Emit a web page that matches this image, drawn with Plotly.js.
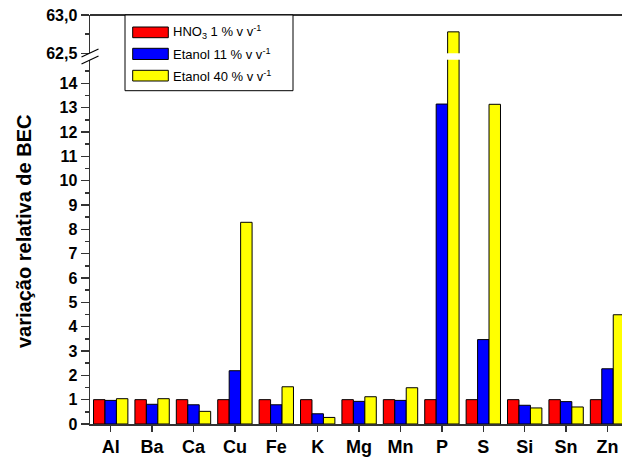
<!DOCTYPE html>
<html>
<head>
<meta charset="utf-8">
<script src="https://cdn.plot.ly/plotly-3.0.1.min.js"></script>
<style>
  html, body { margin: 0; padding: 0; background: #fff; }
  #chart { width: 622px; height: 462px; }
</style>
</head>
<body>
<div id="chart"></div>
<script>
// Elements analysed
const elements = ['Al', 'Ba', 'Ca', 'Cu', 'Fe', 'K', 'Mg', 'Mn', 'P', 'S', 'Si', 'Sn', 'Zn'];

// Relative BEC variation per medium
const hno3      = [1.00, 1.00, 1.00, 1.00, 1.00, 1.00, 1.00, 1.00, 1.00, 1.00, 1.00, 1.00, 1.00];
const etanol11  = [0.97, 0.81, 0.79, 2.19, 0.79, 0.42, 0.93, 0.97, 13.15, 3.47, 0.77, 0.92, 2.27];
const etanol40  = [1.04, 1.04, 0.52, 8.29, 1.53, 0.27, 1.12, 1.49, 62.78, 13.14, 0.66, 0.70, 4.49];

// Series labels and colours
const seriesNames  = ['HNO<sub>3</sub> 1 % v v<sup>-1</sup>', 'Etanol 11 % v v<sup>-1</sup>', 'Etanol 40 % v v<sup>-1</sup>'];
const seriesColors = ['#ff0000', '#0000ff', '#ffff00'];
const seriesValues = [hno3, etanol11, etanol40];

// Axis ticks
const lowerTicks = [0, 1, 2, 3, 4, 5, 6, 7, 8, 9, 10, 11, 12, 13, 14];
const upperTicks = [62.5, 63.0];

const FONT = 'Liberation Sans, Arial, Helvetica, sans-serif';
const AXC = '#333333';

// Bars are drawn twice: once on the lower (0-15) segment and once on the
// upper (62,5-63,0) segment of the broken value axis.
const traces = [];
['y', 'y2'].forEach(ya => {
  seriesValues.forEach((vals, i) => {
    traces.push({
      type: 'bar',
      x: elements,
      y: vals,
      xaxis: 'x',
      yaxis: ya,
      name: seriesNames[i],
      showlegend: false,
      marker: { color: seriesColors[i], line: { color: '#000', width: 1 } },
      hoverinfo: 'x+y'
    });
  });
});

// Plot-area helpers (pixel -> paper) for decorations
const L = 90, R = 622, T = 15, B = 424;
const px = v => (v - L) / (R - L);
const py = v => (B - v) / (B - T);

const shapes = [
  // top frame line
  { type: 'line', xref: 'paper', yref: 'paper', x0: 0, x1: 1, y0: 1, y1: 1,
    line: { color: AXC, width: 2 } },
  // axis break marks
  { type: 'line', xref: 'paper', yref: 'paper', x0: px(81.5), x1: px(98.5), y0: py(57), y1: py(49),
    line: { color: '#000', width: 1.2 } },
  { type: 'line', xref: 'paper', yref: 'paper', x0: px(81.5), x1: px(98.5), y0: py(64), y1: py(56),
    line: { color: '#000', width: 1.2 } },
  // legend frame
  { type: 'rect', xref: 'paper', yref: 'paper', layer: 'above',
    x0: px(125), x1: px(293), y0: py(90.7), y1: py(15),
    fillcolor: '#fff', line: { color: '#000', width: 1 } }
];

const legendRows = [[27, 37.7], [48.3, 59.5], [70.3, 81]];
const annotations = [];
legendRows.forEach((r, i) => {
  shapes.push({ type: 'rect', xref: 'paper', yref: 'paper', layer: 'above',
    x0: px(132.7), x1: px(168.3), y0: py(r[1]), y1: py(r[0]),
    fillcolor: seriesColors[i], line: { color: '#000', width: 1 } });
  annotations.push({ xref: 'paper', yref: 'paper', x: px(170.5), y: py((r[0] + r[1]) / 2),
    xanchor: 'left', yanchor: 'middle', showarrow: false, text: seriesNames[i],
    font: { family: FONT, size: 13, color: '#000' } });
});

// value-axis title
annotations.push({ xref: 'paper', yref: 'paper', x: px(24), y: py(232),
  xanchor: 'center', yanchor: 'middle', showarrow: false, textangle: -90,
  text: 'variação relativa de BEC',
  font: { family: FONT, size: 20, weight: 'bold', color: '#000' } });

const boundaries = elements.slice(0, -1).map((_, i) => i + 0.5);

const layout = {
  width: 622, height: 462,
  margin: { l: L, r: 0, t: T, b: 462 - B, pad: 0 },
  paper_bgcolor: '#fff', plot_bgcolor: '#fff',
  separators: ',.',
  barmode: 'group', bargap: 0.17, bargroupgap: 0,
  showlegend: false,
  font: { family: FONT, color: '#000' },
  xaxis: {
    type: 'category', categoryorder: 'array', categoryarray: elements,
    range: [-0.5, 12.35], anchor: 'y',
    showline: true, linecolor: AXC, linewidth: 1.5,
    ticks: 'outside', ticklen: 6, tickwidth: 1.5, tickcolor: AXC,
    tickfont: { family: FONT, size: 18, weight: 'bold', color: '#000' },
    showgrid: false, zeroline: false
  },
  xaxis2: {
    type: 'linear', overlaying: 'x', anchor: 'y', side: 'bottom',
    range: [-0.5, 12.35], tickmode: 'array', tickvals: boundaries,
    ticks: 'outside', ticklen: 3, tickwidth: 1.5, tickcolor: AXC,
    showticklabels: false, showline: false, showgrid: false, zeroline: false
  },
  yaxis: {
    domain: [0, 14.97 * 24.33 / 409], range: [0, 14.97],
    tickmode: 'array', tickvals: lowerTicks,
    minor: { tickmode: 'linear', tick0: 0, dtick: 0.5, ticks: 'outside', ticklen: 4, tickwidth: 1.5, tickcolor: AXC, showgrid: false },
    ticks: 'outside', ticklen: 8, tickwidth: 1.5, tickcolor: AXC,
    showline: true, linecolor: AXC, linewidth: 1.5,
    tickfont: { family: FONT, size: 16, weight: 'bold', color: '#000' },
    showgrid: false, zeroline: false
  },
  yaxis2: {
    domain: [py(53.3), 1], range: [62.5, 63.0], anchor: 'x',
    tickmode: 'array', tickvals: upperTicks, tickformat: '.1f',
    minor: { tickmode: 'linear', tick0: 62.5, dtick: 0.25, ticks: 'outside', ticklen: 4, tickwidth: 1.5, tickcolor: AXC, showgrid: false },
    ticks: 'outside', ticklen: 8, tickwidth: 1.5, tickcolor: AXC,
    showline: true, linecolor: AXC, linewidth: 1.5,
    tickfont: { family: FONT, size: 16, weight: 'bold', color: '#000' },
    showgrid: false, zeroline: false
  },
  shapes: shapes,
  annotations: annotations
};

Plotly.newPlot('chart', traces, layout, { displayModeBar: false, staticPlot: true });
</script>
</body>
</html>
